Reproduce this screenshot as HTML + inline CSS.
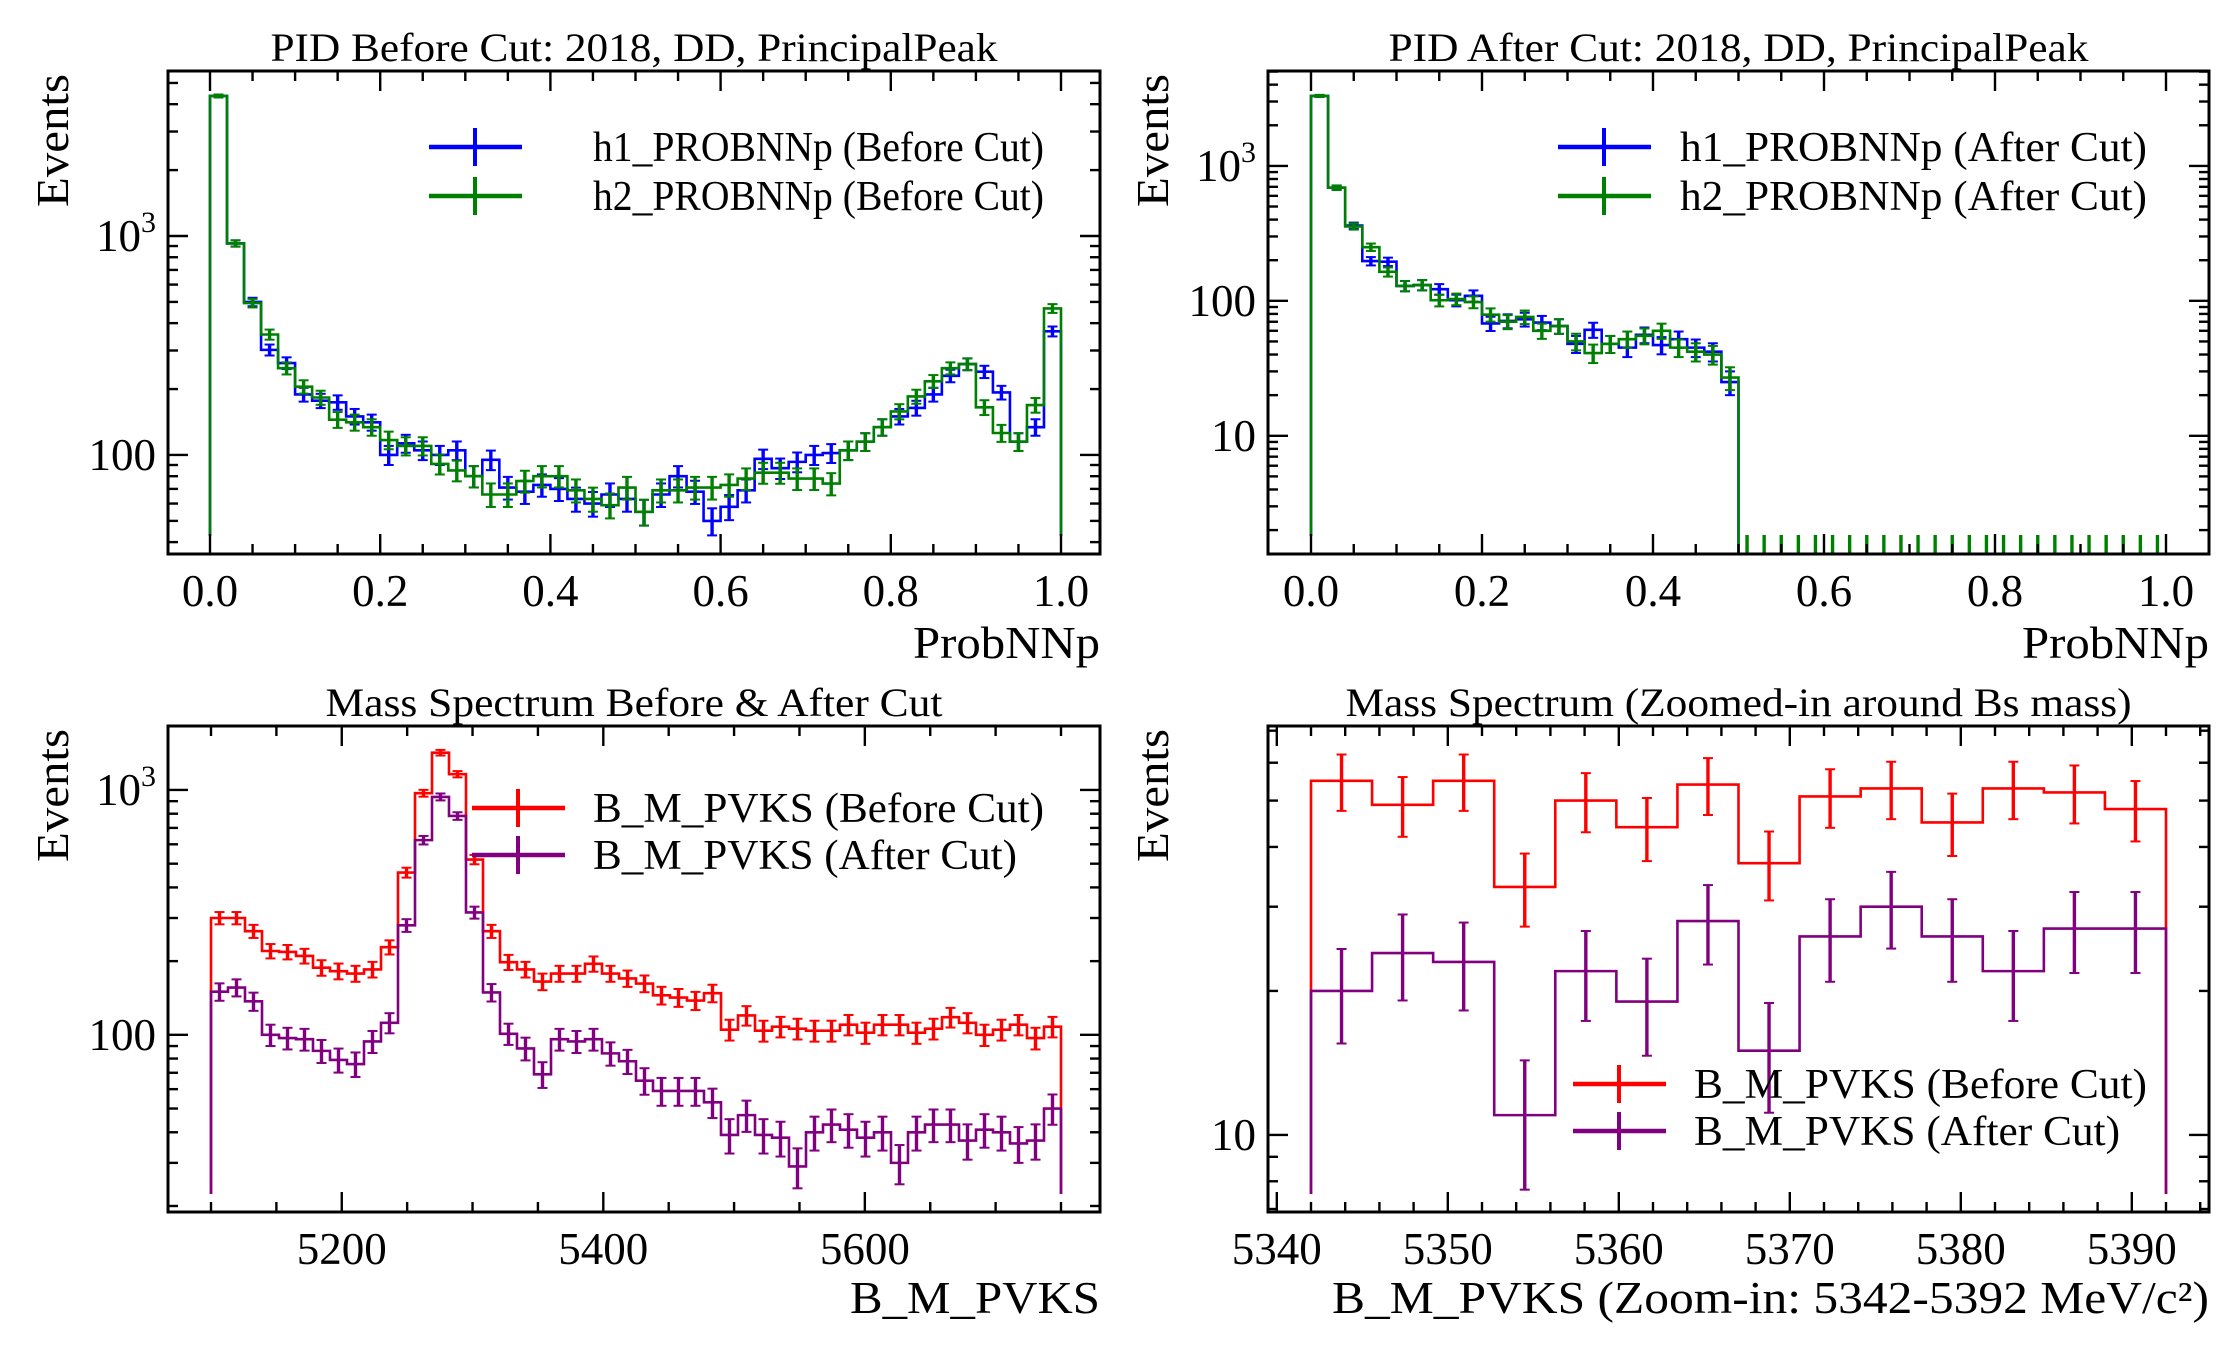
<!DOCTYPE html>
<html><head><meta charset="utf-8">
<style>
html,body{margin:0;padding:0;background:#fff;}
svg{display:block;font-family:"Liberation Serif","DejaVu Serif",serif;}
</style></head>
<body>
<svg id="fig" width="2230" height="1350" viewBox="0 0 2230 1350" xmlns="http://www.w3.org/2000/svg">
<rect x="0" y="0" width="2230" height="1350" fill="#fff"/>
</svg>
<script>
// ---- Data: PID before cut (50 bins, 0..1)
const h1Before = [4360,925,500,302,263,189,177,174,150,141,100,113,105,100,105,80,95,71,68,73,70,63,60,66,63,55,66,80,68,50,58,69,96,87,93,100,102,105,115,134,150,164,189,230,260,240,193,115,134,367];
const h2Before = [4360,925,494,355,249,205,183,145,141,134,117,110,110,91,85,80,66,66,76,80,80,69,63,59,71,55,69,69,71,71,73,78,83,83,78,78,74,105,115,134,158,185,217,249,260,165,126,115,169,467];
// ---- Data: PID after cut (50 bins, 0..1)
const h1After = [3300,690,361,197,195,129,131,122,101,109,68,71,73,69,65,48,61,48,45,56,47,52,45,42,25,0,0,0,0,0,0,0,0,0,0,0,0,0,0,0,0,0,0,0,0,0,0,0,0,0];
const h2After = [3300,690,356,250,164,129,131,101,103,98,79,70,76,60,65,50,41,48,52,55,60,45,42,40,27,0,0,0,0,0,0,0,0,0,0,0,0,0,0,0,0,0,0,0,0,0,0,0,0,0];
// ---- Data: mass spectrum (50 bins, 5100..5750)
const massBefore = [300,300,265,220,218,210,188,182,178,185,228,460,970,1420,1160,520,265,198,185,165,178,178,195,178,170,162,145,142,138,148,105,120,104,108,106,104,104,110,102,110,110,102,106,118,112,100,105,110,97,108];
const massAfter = [150,156,137,100,97,96,86,79,76,94,112,280,624,937,783,316,149,101,88,69,96,94,96,84,78,65,59,59,59,53,39,47,39,38,29,40,43,41,38,40,30,40,43,43,37,41,40,36,37,50];
// ---- Data: zoomed mass (14 bins, 5342..5392)
const zoomBefore = [55,49,55,33,50,44,54,37,51,53,45,53,52,48];
const zoomAfter = [20,24,23,11,22,19,28,15,26,30,26,22,27,27];
// ---- Tick labels
const pidXTicks = [0,0.2,0.4,0.6,0.8,1.0];
const pidXTickLabels = ["0.0","0.2","0.4","0.6","0.8","1.0"];
const massXTicks = [5200,5400,5600];
const zoomXTicks = [5340,5350,5360,5370,5380,5390];

const NS = "http://www.w3.org/2000/svg";
const svg = document.getElementById('fig');
function mk(tag, attrs, parent){
  const e = document.createElementNS(NS, tag);
  for (const k in attrs) e.setAttribute(k, attrs[k]);
  (parent||svg).appendChild(e);
  return e;
}

function panel(cfg){
  const g = mk('g', {});
  
  
  const L=cfg.left,R=cfg.right,T=cfg.top,B=cfg.bottom;
  const xs = v => cfg.x0p + (v-cfg.x0)*(cfg.x1p-cfg.x0p)/(cfg.x1-cfg.x0);
  const lmin=Math.log10(cfg.ymin), lmax=Math.log10(cfg.ymax);
  const ys = v => T + (lmax-Math.log10(v))/(lmax-lmin)*(B-T);
  const base = B-18;
  const cid = cfg.name+'-clip';
  const cp = mk('clipPath',{id:cid},g); mk('rect',{x:L,y:T,width:R-L,height:B-T},cp);
  const plot = mk('g',{'clip-path':'url(#'+cid+')'},g);
  cfg.series.forEach(s=>{
    const n=s.values.length, w=(cfg.x1-cfg.x0)/n;
    let d='', lastNZ=-1;
    for(let i=0;i<n;i++) if(s.values[i]>0) lastNZ=i;
    d='M'+xs(cfg.x0)+','+base;
    for(let i=0;i<=lastNZ;i++){
      const yv=ys(s.values[i]);
      d+=' L'+xs(cfg.x0+i*w)+','+yv+' L'+xs(cfg.x0+(i+1)*w)+','+yv;
    }
    d+=' L'+xs(cfg.x0+(lastNZ+1)*w)+','+(lastNZ===n-1?base:B+5);
    const p=mk('path',{d:d,fill:'none',stroke:s.color,'stroke-width':2.6,'stroke-linejoin':'miter'},plot);
    
    
    for(let i=0;i<n;i++){
      const v=s.values[i], cx=xs(cfg.x0+(i+0.5)*w);
      let y1,y2;
      if(v>0){ const e=Math.sqrt(v); y1=ys(v+e); y2=ys(Math.max(v-e,cfg.ymin*0.5)); }
      else { if(!s.zeroErr) continue; y1=ys(1.84); y2=B; }
      const eb=mk('line',{x1:cx,x2:cx,y1:y1,y2:y2,stroke:s.color,'stroke-width':3.4},plot);
      
      
      if(v>0){
        mk('line',{x1:cx-5,x2:cx+5,y1:y1,y2:y1,stroke:s.color,'stroke-width':2},plot);
        mk('line',{x1:cx-5,x2:cx+5,y1:y2,y2:y2,stroke:s.color,'stroke-width':2},plot);
      }
    }
  });
  const fr=mk('rect',{x:L,y:T,width:R-L,height:B-T,fill:'none',stroke:'#000','stroke-width':3},g);
  
  
  for(let v=cfg.xminorStart; v<=cfg.xminorEnd+1e-9; v+=cfg.xminor){
    const px=xs(v); if(px<L||px>R) continue;
    const major = cfg.xticks.some(t=>Math.abs(t-v)<1e-6);
    const len = major?20:10;
    mk('line',{x1:px,x2:px,y1:B,y2:B-len,stroke:'#000','stroke-width':2.4},g);
    mk('line',{x1:px,x2:px,y1:T,y2:T+len,stroke:'#000','stroke-width':2.4},g);
  }
  cfg.xticks.forEach((t,i)=>{
    const tx=mk('text',{x:xs(t),y:B+52,'text-anchor':'middle','font-size':45},g);
    tx.textContent = cfg.xlabels?cfg.xlabels[i]:String(t);
    
    
  });
  for(let dec=Math.floor(lmin); dec<=Math.ceil(lmax); dec++){
    for(let m=1;m<10;m++){
      const v=m*Math.pow(10,dec); if(v<cfg.ymin||v>cfg.ymax) continue;
      const py=ys(v), len=m===1?20:10;
      mk('line',{x1:L,x2:L+len,y1:py,y2:py,stroke:'#000','stroke-width':2.4},g);
      mk('line',{x1:R,x2:R-len,y1:py,y2:py,stroke:'#000','stroke-width':2.4},g);
    }
  }
  cfg.ylabels.forEach(([v,lab])=>{
    const tx=mk('text',{x:L-12,y:ys(v)+15,'text-anchor':'end','font-size':45},g);
    
    
    if(lab==='1e3'){
      const a=mk('tspan',{},tx); a.textContent='10';
      const b=mk('tspan',{dy:-19,'font-size':30},tx); b.textContent='3';
    } else tx.textContent=lab;
  });
  const tt=mk('text',{x:(L+R)/2,y:T-10,'text-anchor':'middle','font-size':40,textLength:cfg.titleW,lengthAdjust:'spacingAndGlyphs'},g);
  tt.textContent=cfg.title;
  
  
  const xl=mk('text',{x:R,y:cfg.xlabY,'text-anchor':'end','font-size':46,textLength:cfg.xlabW,lengthAdjust:'spacingAndGlyphs'},g);
  xl.textContent=cfg.xlabel;
  
  
  const yl=mk('text',{x:0,y:0,'text-anchor':'end','font-size':46,transform:'translate('+(L-100)+','+(T+3)+') rotate(-90)',textLength:133,lengthAdjust:'spacingAndGlyphs'},g);
  yl.textContent='Events';
  
  
  cfg.series.forEach((s,i)=>{
    const ly=cfg.legY[i];
    const le=mk('g',{},g);
    
    
    mk('line',{x1:cfg.legX,x2:cfg.legX+93,y1:ly,y2:ly,stroke:s.color,'stroke-width':4.5},le);
    mk('line',{x1:cfg.legX+46,x2:cfg.legX+46,y1:ly-19,y2:ly+19,stroke:s.color,'stroke-width':4},le);
    const t=mk('text',{x:cfg.legTX,y:ly+14,'font-size':42,textLength:cfg.legW[i],lengthAdjust:'spacingAndGlyphs'},le);
    t.textContent=s.label;
  });
}

panel({name:'pid-before-panel',left:168,right:1100,top:71,bottom:554,x0:0,x1:1,x0p:210,x1p:1061,
  ymin:35.3,ymax:5670,xticks:pidXTicks,xlabels:pidXTickLabels,xminor:0.05,xminorStart:-0.05,xminorEnd:1.05,
  ylabels:[[1000,'1e3'],[100,'100']],title:'PID Before Cut: 2018, DD, PrincipalPeak',titleW:727,
  xlabel:'ProbNNp',xlabY:658,xlabW:187,legX:429,legTX:593,legY:[147,196],legW:[451,451],
  series:[{key:'h1-before',color:'#0000ff',values:h1Before,label:'h1_PROBNNp (Before Cut)'},
          {key:'h2-before',color:'#008000',values:h2Before,label:'h2_PROBNNp (Before Cut)'}]});
panel({name:'pid-after-panel',left:1268,right:2209,top:71,bottom:554,x0:0,x1:1,x0p:1311,x1p:2166,
  ymin:1.33,ymax:5050,xticks:pidXTicks,xlabels:pidXTickLabels,xminor:0.05,xminorStart:-0.05,xminorEnd:1.05,
  ylabels:[[1000,'1e3'],[100,'100'],[10,'10']],title:'PID After Cut: 2018, DD, PrincipalPeak',titleW:700,
  xlabel:'ProbNNp',xlabY:658,xlabW:187,legX:1558,legTX:1680,legY:[147,196],legW:[467,467],
  series:[{key:'h1-after',color:'#0000ff',values:h1After,label:'h1_PROBNNp (After Cut)'},
          {key:'h2-after',color:'#008000',values:h2After,label:'h2_PROBNNp (After Cut)',zeroErr:true}]});
panel({name:'mass-panel',left:168,right:1100,top:726,bottom:1212,x0:5100,x1:5750,x0p:211,x1p:1061,
  ymin:18.9,ymax:1825,xticks:massXTicks,xminor:50,xminorStart:5050,xminorEnd:5800,
  ylabels:[[1000,'1e3'],[100,'100']],title:'Mass Spectrum Before & After Cut',titleW:617,
  xlabel:'B_M_PVKS',xlabY:1313,xlabW:250,legX:472,legTX:593,legY:[808,855],legW:[451,424],
  series:[{key:'mass-before',color:'#ff0000',values:massBefore,label:'B_M_PVKS (Before Cut)'},
          {key:'mass-after',color:'#800080',values:massAfter,label:'B_M_PVKS (After Cut)'}]});
panel({name:'zoom-panel',left:1268,right:2209,top:726,bottom:1212,x0:5342,x1:5392,x0p:1311,x1p:2166,
  ymin:6.9,ymax:71.6,xticks:zoomXTicks,xminor:2,xminorStart:5336,xminorEnd:5396,
  ylabels:[[10,'10']],title:'Mass Spectrum (Zoomed-in around Bs mass)',titleW:786,
  xlabel:'B_M_PVKS (Zoom-in: 5342-5392 MeV/c²)',xlabY:1313,xlabW:877,legX:1573,legTX:1694,legY:[1084,1131],legW:[453,426],
  series:[{key:'zoom-before',color:'#ff0000',values:zoomBefore,label:'B_M_PVKS (Before Cut)'},
          {key:'zoom-after',color:'#800080',values:zoomAfter,label:'B_M_PVKS (After Cut)'}]});
</script>
</body></html>
